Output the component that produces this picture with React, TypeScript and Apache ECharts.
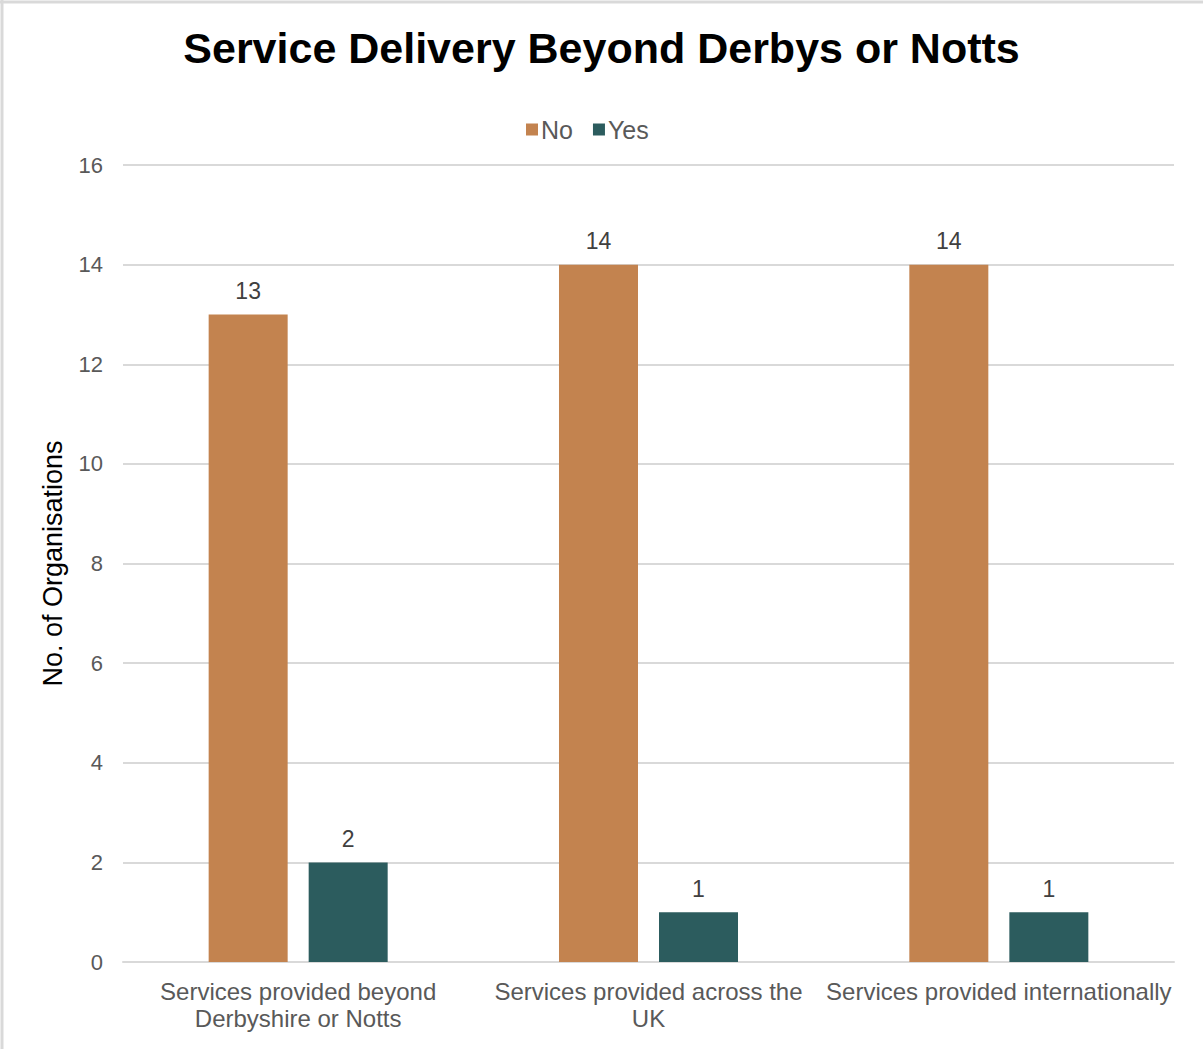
import React, { useEffect, useRef } from "react";
import * as echarts from "echarts";

const categories = [
  "Services provided beyond\nDerbyshire or Notts",
  "Services provided across the\nUK",
  "Services provided internationally",
];
const noValues = [13, 14, 14];
const yesValues = [2, 1, 1];
const seriesNames = ["No", "Yes"];
const titleText = "Service Delivery Beyond Derbys or Notts";
const yAxisName = "No. of Organisations";

export default function App() {
  const ref = useRef<HTMLDivElement>(null);
  useEffect(() => {
    document.body.style.margin = "0";
    const chart = echarts.init(ref.current!, null, { renderer: "svg" });
    const font = "Liberation Sans, Arial, sans-serif";
    const labelStyle = {
      show: true,
      position: "top" as const,
      distance: 12,
      fontSize: 23,
      color: "#404040",
      fontFamily: font,
    };
    chart.setOption({
      animation: false,
      backgroundColor: "#ffffff",
      title: {
        text: titleText,
        left: "center",
        top: 21,
        textStyle: { fontSize: 43, fontWeight: "bold", color: "#000000", fontFamily: font },
      },
      legend: {
        data: seriesNames,
        top: 112,
        left: 521,
        itemWidth: 12,
        itemHeight: 12,
        itemGap: 20,
        icon: "rect",
        textStyle: { fontSize: 25, color: "#595959", fontFamily: font, padding: [0, 0, 0, -2] },
      },
      grid: { left: 123, right: 29, top: 165, bottom: 87, containLabel: false },
      xAxis: {
        type: "category",
        data: categories,
        axisLine: { lineStyle: { color: "#d9d9d9", width: 2 } },
        axisTick: { show: false },
        axisLabel: {
          fontSize: 24,
          color: "#595959",
          fontFamily: font,
          lineHeight: 27,
          margin: 16,
          interval: 0,
        },
      },
      yAxis: {
        type: "value",
        min: 0,
        max: 16,
        interval: 2,
        name: yAxisName,
        nameLocation: "middle",
        nameGap: 57,
        nameRotate: 90,
        nameTextStyle: { fontSize: 27, color: "#000000", fontFamily: font },
        axisLine: { show: false },
        axisTick: { show: false },
        splitLine: { lineStyle: { color: "#d9d9d9", width: 2 } },
        axisLabel: { fontSize: 22, color: "#595959", fontFamily: font, margin: 20 },
      },
      series: [
        {
          name: seriesNames[0],
          type: "bar",
          data: noValues,
          barWidth: 79,
          barGap: "26.6%",
          itemStyle: { color: "#C3834F" },
          label: labelStyle,
        },
        {
          name: seriesNames[1],
          type: "bar",
          data: yesValues,
          barWidth: 79,
          itemStyle: { color: "#2C5C5E" },
          label: labelStyle,
        },
      ],
      graphic: [
        { type: "line", shape: { x1: 2, y1: 0, x2: 2, y2: 1049 }, style: { stroke: "#d9d9d9", lineWidth: 3 } },
        { type: "line", shape: { x1: 0, y1: 2, x2: 1203, y2: 2 }, style: { stroke: "#d9d9d9", lineWidth: 3 } },
      ],
    });
    return () => chart.dispose();
  }, []);
  return <div ref={ref} style={{ width: 1203, height: 1049 }} />;
}
